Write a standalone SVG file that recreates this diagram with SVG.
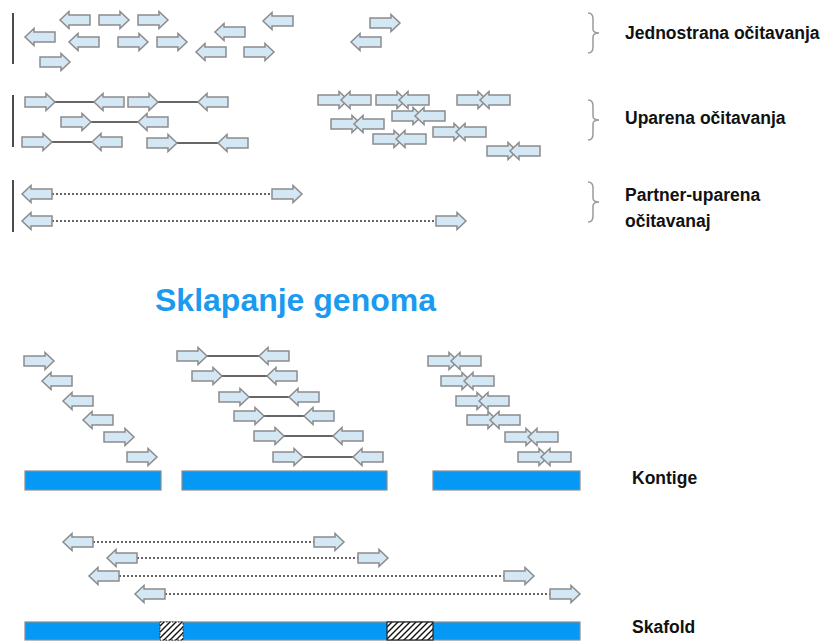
<svg xmlns="http://www.w3.org/2000/svg" xmlns:xlink="http://www.w3.org/1999/xlink" width="825" height="642" viewBox="0 0 825 642">
<style>
.rd{fill:#D3E7F4;stroke:#8C8C8C;stroke-width:1.5;stroke-linejoin:miter}
.pl{stroke:#333;stroke-width:1.5;fill:none}
.mp{stroke:#333;stroke-width:1.5;stroke-dasharray:2 2;fill:none}
.vl{stroke:#111;stroke-width:1.5}
.br{fill:none;stroke:#9A9A9A;stroke-width:1.5}
.lb{font-family:"Liberation Sans",Arial,sans-serif;font-weight:bold;font-size:17.5px;fill:#111}
.bar{fill:#0598F5;stroke:#8C8C8C;stroke-width:1.2}
</style>
<defs>
<path id="ar" class="rd" d="M0,-5 H21 V-8.5 L30,0 L21,8.5 V5 H0 Z"/>
<path id="al" class="rd" d="M30,-5 H9 V-8.5 L0,0 L9,8.5 V5 H30 Z"/>
<g id="ov"><use xlink:href="#ar" href="#ar"/><use xlink:href="#al" href="#al" x="23"/></g>
<pattern id="hatch" patternUnits="userSpaceOnUse" width="6" height="6">
<rect width="6" height="6" fill="#fff"/>
<path d="M-1,1 L1,-1 M0,6 L6,0 M5,7 L7,5" stroke="#111" stroke-width="1.4"/>
</pattern>
</defs>

<g id="axis-lines">
<line class="vl" x1="13" y1="13" x2="13" y2="64"/>
<line class="vl" x1="13" y1="95" x2="13" y2="147"/>
<line class="vl" x1="13" y1="180" x2="13" y2="232"/>
</g>

<g id="brackets">
<path class="br" d="M588,13 Q593,13 593,19 V29 Q593,33 599,33 Q593,33 593,37 V47 Q593,53 588,53"/>
<path class="br" d="M588,100 Q593,100 593,106 V116 Q593,120 599,120 Q593,120 593,124 V134 Q593,140 588,140"/>
<path class="br" d="M588,182 Q593,182 593,188 V198 Q593,202 599,202 Q593,202 593,206 V216 Q593,222 588,222"/>
</g>

<g id="connectors">
<line class="pl" x1="55" y1="102" x2="94" y2="102"/>
<line class="pl" x1="158" y1="102" x2="198" y2="102"/>
<line class="pl" x1="91" y1="122" x2="138" y2="122"/>
<line class="pl" x1="52" y1="142" x2="92" y2="142"/>
<line class="pl" x1="177" y1="143" x2="218" y2="143"/>
<line class="mp" x1="52" y1="194" x2="272" y2="194"/>
<line class="mp" x1="52" y1="221" x2="436" y2="221"/>
<line class="pl" x1="207" y1="356" x2="259" y2="356"/>
<line class="pl" x1="222" y1="376" x2="267" y2="376"/>
<line class="pl" x1="249" y1="397" x2="289" y2="397"/>
<line class="pl" x1="264" y1="416" x2="304" y2="416"/>
<line class="pl" x1="284" y1="436" x2="333" y2="436"/>
<line class="pl" x1="303" y1="457" x2="353" y2="457"/>
<line class="mp" x1="93" y1="542" x2="314" y2="542"/>
<line class="mp" x1="137" y1="558" x2="358" y2="558"/>
<line class="mp" x1="119" y1="576" x2="504" y2="576"/>
<line class="mp" x1="165" y1="594" x2="550" y2="594"/>
</g>

<g id="single-end-reads">
<use href="#al" x="25" y="37"/>
<use href="#al" x="60" y="20"/>
<use href="#ar" x="99" y="20"/>
<use href="#ar" x="138" y="20"/>
<use href="#al" x="69" y="42"/>
<use href="#ar" x="118" y="42"/>
<use href="#ar" x="157" y="42"/>
<use href="#ar" x="40" y="62"/>
<use href="#al" x="196" y="52"/>
<use href="#al" x="215" y="32"/>
<use href="#al" x="263" y="21"/>
<use href="#ar" x="244" y="52"/>
<use href="#ar" x="370" y="23"/>
<use href="#al" x="351" y="42"/>
</g>

<g id="paired-reads">
<use href="#ar" x="25" y="102"/><use href="#al" x="94" y="102"/>
<use href="#ar" x="128" y="102"/><use href="#al" x="198" y="102"/>
<use href="#ar" x="61" y="122"/><use href="#al" x="138" y="122"/>
<use href="#ar" x="22" y="142"/><use href="#al" x="92" y="142"/>
<use href="#ar" x="147" y="143"/><use href="#al" x="218" y="143"/>
</g>

<g id="paired-overlap-reads">
<use href="#ov" x="318" y="100"/>
<use href="#ov" x="376" y="100"/>
<use href="#ov" x="457" y="100"/>
<use href="#ov" x="392" y="116"/>
<use href="#ov" x="331" y="124"/>
<use href="#ov" x="433" y="132"/>
<use href="#ov" x="373" y="139"/>
<use href="#ov" x="487" y="151"/>
</g>

<g id="mate-pair-reads">
<use href="#al" x="22" y="194"/><use href="#ar" x="272" y="194"/>
<use href="#al" x="22" y="221"/><use href="#ar" x="436" y="221"/>
</g>

<g id="labels">
<text class="lb" x="625" y="39">Jednostrana očitavanja</text>
<text class="lb" x="625" y="124">Uparena očitavanja</text>
<text class="lb" x="625" y="201">Partner-uparena</text>
<text class="lb" x="625" y="227">očitavanaj</text>
<text class="lb" x="632" y="484">Kontige</text>
<text class="lb" x="632" y="633">Skafold</text>
</g>

<g id="title">
<text x="155" y="311" font-family="'Liberation Sans',Arial,sans-serif" font-weight="bold" font-size="32" fill="#1B9BF0">Sklapanje genoma</text>
</g>

<g id="contig-1">
<use href="#ar" x="24" y="361"/>
<use href="#al" x="42" y="381"/>
<use href="#al" x="63" y="401"/>
<use href="#al" x="83" y="420"/>
<use href="#ar" x="104" y="437"/>
<use href="#ar" x="127" y="457"/>
<rect class="bar" x="25" y="471" width="136" height="19"/>
</g>

<g id="contig-2">
<use href="#ar" x="177" y="356"/><use href="#al" x="259" y="356"/>
<use href="#ar" x="192" y="376"/><use href="#al" x="267" y="376"/>
<use href="#ar" x="219" y="397"/><use href="#al" x="289" y="397"/>
<use href="#ar" x="234" y="416"/><use href="#al" x="304" y="416"/>
<use href="#ar" x="254" y="436"/><use href="#al" x="333" y="436"/>
<use href="#ar" x="273" y="457"/><use href="#al" x="353" y="457"/>
<rect class="bar" x="182" y="471" width="205" height="19"/>
</g>

<g id="contig-3">
<use href="#ov" x="428" y="361"/>
<use href="#ov" x="441" y="381"/>
<use href="#ov" x="456" y="401"/>
<use href="#ov" x="467" y="420"/>
<use href="#ov" x="505" y="437"/>
<use href="#ov" x="518" y="457"/>
<rect class="bar" x="433" y="471" width="147" height="19"/>
</g>

<g id="scaffold-reads">
<use href="#al" x="63" y="542"/><use href="#ar" x="314" y="542"/>
<use href="#al" x="107" y="558"/><use href="#ar" x="358" y="558"/>
<use href="#al" x="89" y="576"/><use href="#ar" x="504" y="576"/>
<use href="#al" x="135" y="594"/><use href="#ar" x="550" y="594"/>
</g>

<g id="scaffold">
<rect class="bar" x="25" y="622" width="555" height="18"/>
<rect x="160" y="622" width="23" height="18" fill="url(#hatch)" stroke="#222" stroke-width="1" stroke-dasharray="1.5 1.5"/>
<rect x="387" y="622" width="46" height="18" fill="url(#hatch)" stroke="#222" stroke-width="1.2"/>
</g>
</svg>
